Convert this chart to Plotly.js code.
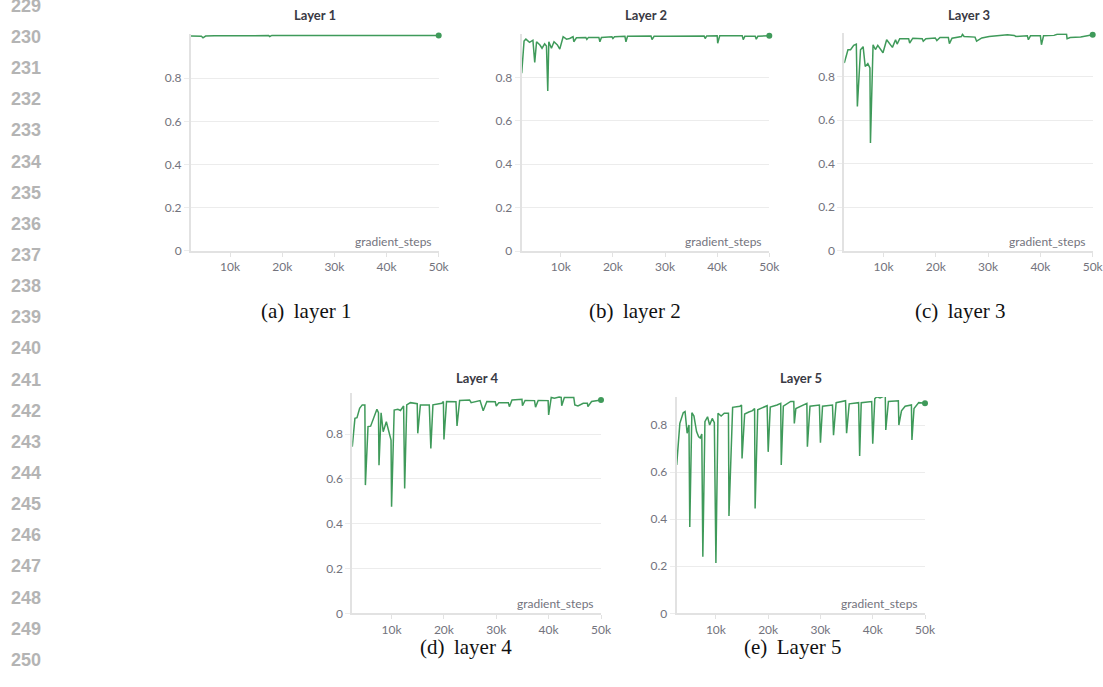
<!DOCTYPE html>
<html>
<head>
<meta charset="utf-8">
<script src="https://cdn.plot.ly/plotly-3.0.1.min.js"></script>
<style>html,body{margin:0;padding:0;background:#fff;}#chart{width:1103px;height:687px;}</style>
</head>
<body>
<div id="chart"></div>
<script>
// ---------- DATA ----------
const panelTitles = ["Layer 1", "Layer 2", "Layer 3", "Layer 4", "Layer 5"];
const captions = ["(a)\u2009 layer 1", "(b)\u2009 layer 2", "(c)\u2009 layer 3", "(d)\u2009 layer 4", "(e)\u2009 Layer 5"];
const xTickVals = [10000, 20000, 30000, 40000, 50000];
const xTickText = ["10k", "20k", "30k", "40k", "50k"];
const yTickVals = [0, 0.2, 0.4, 0.6, 0.8];
const yTickText = ["0", "0.2", "0.4", "0.6", "0.8"];
const xAxisLabel = "gradient_steps";
const lineNumbers = [229,230,231,232,233,234,235,236,237,238,239,240,241,242,243,244,245,246,247,248,249,250];

const x1 = [2500, 3500, 4500, 4800, 5300, 7000, 10000, 12500, 15000, 17400, 17600, 18000, 20000, 25000, 30000, 35000, 40000, 43000, 45000, 47500, 50000];
const y1 = [0.996, 0.996, 0.995, 0.988, 0.996, 0.997, 0.998, 0.997, 0.998, 0.998, 0.994, 0.999, 0.999, 0.999, 0.998, 0.999, 0.998, 0.999, 0.999, 0.998, 0.999];

const x2 = [2500, 2950, 3300, 4000, 4650, 5000, 5350, 6000, 6400, 6900, 7250, 7500, 7700, 8200, 8700, 9350, 9800, 10450, 11100, 11700, 12350, 12500, 13000, 14800, 15000, 15300, 17300, 17500, 17800, 19800, 20000, 20300, 22300, 22500, 22800, 25000, 27300, 27500, 27900, 30000, 35000, 37500, 37700, 38000, 40000, 40100, 40500, 44800, 45000, 45300, 47300, 47500, 47800, 50000];
const y2 = [0.82, 0.968, 0.977, 0.962, 0.972, 0.87, 0.965, 0.95, 0.935, 0.955, 0.945, 0.738, 0.965, 0.935, 0.965, 0.95, 0.931, 0.988, 0.977, 0.98, 0.988, 0.965, 0.983, 0.985, 0.976, 0.985, 0.985, 0.965, 0.985, 0.988, 0.98, 0.988, 0.99, 0.965, 0.99, 0.99, 0.992, 0.975, 0.99, 0.99, 0.992, 0.992, 0.98, 0.992, 0.993, 0.958, 0.993, 0.993, 0.975, 0.99, 0.99, 0.977, 0.99, 0.993];

const x3 = [2500, 3200, 3700, 4300, 4800, 5000, 5600, 6100, 6500, 7000, 7400, 7500, 8000, 8450, 8900, 9400, 9900, 10600, 11000, 11700, 12300, 12600, 13100, 14800, 15000, 15600, 17400, 17600, 18100, 19900, 20200, 20800, 22400, 22600, 23100, 24900, 25100, 25400, 27500, 27800, 28800, 30200, 33700, 35000, 35300, 37500, 37700, 38100, 40000, 40200, 40600, 42600, 43200, 45000, 45100, 45700, 47700, 50000];
const y3 = [0.863, 0.924, 0.924, 0.944, 0.95, 0.663, 0.924, 0.938, 0.847, 0.86, 0.84, 0.495, 0.947, 0.925, 0.944, 0.924, 0.91, 0.97, 0.955, 0.935, 0.97, 0.95, 0.975, 0.975, 0.955, 0.977, 0.975, 0.963, 0.975, 0.978, 0.966, 0.98, 0.98, 0.952, 0.977, 0.985, 0.995, 0.985, 0.982, 0.963, 0.978, 0.985, 0.993, 0.99, 0.985, 0.988, 0.97, 0.988, 0.988, 0.947, 0.988, 0.99, 0.995, 0.995, 0.975, 0.98, 0.983, 0.993];

const x4 = [2500, 3000, 3400, 3900, 4400, 4900, 5000, 5500, 6000, 6600, 7200, 7500, 7600, 8000, 8400, 9000, 9500, 9900, 10000, 10500, 11200, 11700, 12300, 12500, 12900, 13600, 14900, 15000, 15500, 17200, 17500, 17900, 19600, 19900, 20000, 20500, 22300, 22500, 23000, 24900, 25200, 26900, 27500, 28200, 29800, 30000, 30500, 32300, 32500, 33000, 34900, 35000, 35500, 37300, 37500, 38000, 39900, 40000, 40500, 41100, 42000, 42400, 42500, 43000, 44800, 45000, 45600, 46600, 47400, 47500, 48200, 49700, 50000];
const y4 = [0.743, 0.87, 0.873, 0.915, 0.93, 0.93, 0.572, 0.833, 0.835, 0.877, 0.91, 0.895, 0.661, 0.895, 0.81, 0.855, 0.81, 0.773, 0.475, 0.907, 0.91, 0.905, 0.925, 0.557, 0.93, 0.94, 0.935, 0.803, 0.93, 0.93, 0.736, 0.93, 0.937, 0.945, 0.776, 0.945, 0.944, 0.836, 0.95, 0.952, 0.94, 0.949, 0.904, 0.945, 0.944, 0.925, 0.94, 0.94, 0.922, 0.952, 0.955, 0.926, 0.95, 0.949, 0.92, 0.95, 0.949, 0.885, 0.963, 0.96, 0.965, 0.963, 0.926, 0.963, 0.963, 0.93, 0.925, 0.937, 0.937, 0.922, 0.945, 0.952, 0.952];

const x5 = [2500, 3100, 3750, 4100, 4500, 4850, 5000, 5400, 5800, 6300, 6700, 7000, 7300, 7500, 7900, 8400, 8800, 9300, 9700, 10000, 10400, 11000, 11600, 12400, 12500, 13200, 14600, 14900, 15000, 15500, 16300, 17000, 17400, 17500, 18000, 19800, 20000, 20400, 21700, 22400, 22500, 22900, 24300, 24900, 25000, 25300, 27400, 27500, 28000, 29800, 30000, 30400, 32300, 32500, 33000, 34800, 35000, 35500, 37300, 37500, 37800, 39800, 40000, 40400, 40800, 41400, 42200, 42400, 42500, 43000, 44900, 45000, 45500, 46200, 47400, 47500, 47900, 48800, 50000];
const y5 = [0.63, 0.807, 0.852, 0.857, 0.765, 0.80, 0.367, 0.852, 0.838, 0.772, 0.75, 0.745, 0.762, 0.24, 0.814, 0.835, 0.80, 0.828, 0.81, 0.214, 0.85, 0.838, 0.85, 0.85, 0.413, 0.875, 0.88, 0.885, 0.658, 0.847, 0.855, 0.861, 0.87, 0.445, 0.865, 0.882, 0.686, 0.876, 0.885, 0.892, 0.63, 0.88, 0.90, 0.90, 0.807, 0.87, 0.892, 0.708, 0.88, 0.885, 0.725, 0.88, 0.885, 0.757, 0.895, 0.903, 0.765, 0.89, 0.895, 0.668, 0.895, 0.90, 0.72, 0.912, 0.92, 0.915, 0.923, 0.923, 0.779, 0.90, 0.903, 0.80, 0.86, 0.88, 0.885, 0.736, 0.87, 0.895, 0.892];

const seriesX = [x1, x2, x3, x4, x5];
const seriesY = [y1, y2, y3, y4, y5];

// ---------- LAYOUT (pixel geometry) ----------
const W = 1103, H = 687;
const panels = [
  {l: 191,   r: 438.7, top: 33.9, bot: 250.7, ymax: 1.006, titleY: 15,  capX: 306, capY: 311},
  {l: 521.7, r: 769.3, top: 33.5, bot: 251.0, ymax: 1.003, titleY: 15,  capX: 635, capY: 311},
  {l: 844.3, r: 1092.7, top: 33.2, bot: 250.7, ymax: 1.0,  titleY: 15,  capX: 960, capY: 311},
  {l: 352.3, r: 601,   top: 393.0, bot: 613.3, ymax: 0.983, titleY: 378, capX: 466, capY: 647},
  {l: 676.7, r: 925,   top: 397.0, bot: 613.3, ymax: 0.919, titleY: 378, capX: 792, capY: 647}
];
const px = v => v / W;
const py = v => 1 - v / H;

const green = '#3f9a5a';
const tickColor = '#73737d';
const gridColor = '#ececec';
const axisColor = '#e2e2e2';
const sans = 'Lato, "Open Sans", sans-serif';

const traces = [];
const layout = {
  width: W, height: H,
  margin: {l: 0, r: 0, t: 0, b: 0},
  paper_bgcolor: '#ffffff',
  plot_bgcolor: '#ffffff',
  showlegend: false,
  annotations: [],
  font: {family: sans, color: tickColor}
};

panels.forEach((p, i) => {
  const n = i + 1;
  const xa = n === 1 ? 'x' : 'x' + n;
  const ya = n === 1 ? 'y' : 'y' + n;
  const xs = seriesX[i], ys = seriesY[i];
  traces.push({
    x: xs, y: ys, xaxis: xa, yaxis: ya, type: 'scatter', mode: 'lines',
    line: {color: green, width: 1.5}, hoverinfo: 'skip'
  });
  traces.push({
    x: [xs[xs.length - 1]], y: [ys[ys.length - 1]], xaxis: xa, yaxis: ya,
    type: 'scatter', mode: 'markers', cliponaxis: false,
    marker: {color: green, size: 6}, hoverinfo: 'skip'
  });
  layout['xaxis' + (n === 1 ? '' : n)] = {
    domain: [px(p.l), px(p.r)],
    anchor: ya,
    range: [2500, 50000],
    tickvals: xTickVals, ticktext: xTickText,
    ticks: 'outside', ticklen: 4, tickwidth: 1, tickcolor: axisColor,
    ticklabeloverflow: 'allow',
    showgrid: false, zeroline: false,
    showline: true, linecolor: axisColor, linewidth: 2,
    tickfont: {family: sans, size: 12, color: tickColor},
    fixedrange: true
  };
  layout['yaxis' + (n === 1 ? '' : n)] = {
    domain: [py(p.bot), py(p.top)],
    anchor: xa,
    range: [0, p.ymax],
    tickvals: yTickVals, ticktext: yTickText,
    ticks: 'outside', ticklen: 5, tickwidth: 1, tickcolor: gridColor,
    showgrid: true, gridcolor: gridColor, gridwidth: 1,
    zeroline: false,
    showline: true, linecolor: axisColor, linewidth: 2,
    tickfont: {family: sans, size: 12, color: tickColor},
    fixedrange: true
  };
  // panel title
  layout.annotations.push({
    xref: 'paper', yref: 'paper', x: px((p.l + p.r) / 2), y: py(p.titleY),
    xanchor: 'center', yanchor: 'middle', showarrow: false,
    text: '<b>' + panelTitles[i] + '</b>',
    font: {family: sans, size: 13, color: '#3a3a44'}
  });
  // axis label inside the plot
  layout.annotations.push({
    xref: 'paper', yref: 'paper', x: px(p.r - 5), y: py(p.bot - 9.5),
    xanchor: 'right', yanchor: 'middle', showarrow: false,
    text: xAxisLabel,
    font: {family: sans, size: 12, color: tickColor}
  });
  // caption
  layout.annotations.push({
    xref: 'paper', yref: 'paper', x: px(p.capX), y: py(p.capY),
    xanchor: 'center', yanchor: 'middle', showarrow: false,
    text: captions[i],
    font: {family: '"Liberation Serif", "DejaVu Serif", serif', size: 21, color: '#111111'}
  });
});

// line numbers in the margin
lineNumbers.forEach((num, k) => {
  layout.annotations.push({
    xref: 'paper', yref: 'paper', x: px(43), y: py(5.8 + k * 31.15),
    xanchor: 'right', yanchor: 'middle', showarrow: false,
    text: '<b>' + num + '</b>',
    font: {family: '"Liberation Sans", Arial, sans-serif', size: 18, color: '#b4b4b4'}
  });
});

Plotly.newPlot('chart', traces, layout, {staticPlot: true, displayModeBar: false});
</script>
</body>
</html>
